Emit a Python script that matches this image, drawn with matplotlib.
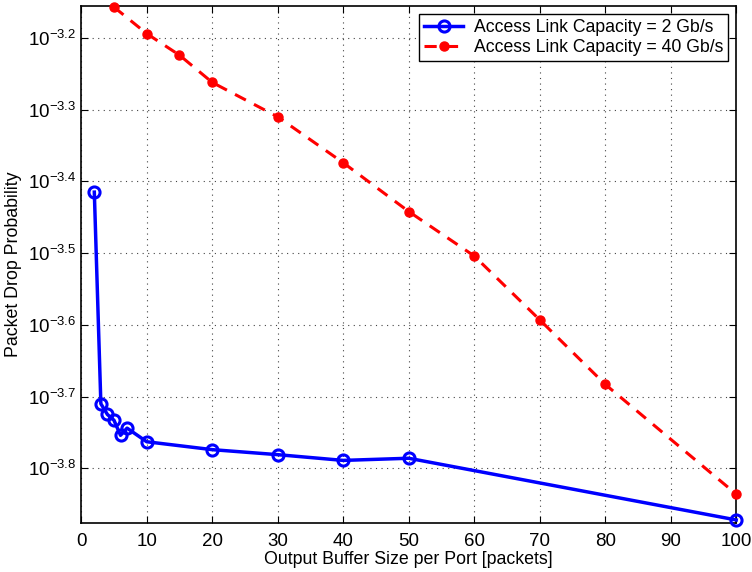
import numpy as np
import matplotlib
matplotlib.use('Agg')
from matplotlib import pyplot as plt
from matplotlib.ticker import FixedLocator, FixedFormatter, NullLocator

plt.rcParams['font.family'] = ['Liberation Sans', 'DejaVu Sans']
plt.rcParams['mathtext.fontset'] = 'custom'
plt.rcParams['mathtext.rm'] = 'Liberation Sans'
plt.rcParams['mathtext.it'] = 'Liberation Sans'

# data (log10 of drop probability)
buf_2g = [2, 3, 4, 5, 6, 7, 10, 20, 30, 40, 50, 100]
logp_2g = [-3.415, -3.710, -3.725, -3.733, -3.754, -3.744, -3.763,
           -3.774, -3.781, -3.789, -3.786, -3.872]
buf_40g = [5, 10, 15, 20, 30, 40, 50, 60, 70, 80, 100]
logp_40g = [-3.157, -3.194, -3.224, -3.262, -3.310, -3.374, -3.442,
            -3.504, -3.593, -3.683, -3.836]
ytick_exp = [-3.8, -3.7, -3.6, -3.5, -3.4, -3.3, -3.2]
xticks = [0, 10, 20, 30, 40, 50, 60, 70, 80, 90, 100]

fig = plt.figure(figsize=[7.52, 5.72], dpi=100)
ax = fig.add_axes([0.108, 0.086, 0.871, 0.9035])

ax.plot(buf_2g, 10**np.array(logp_2g), '-o', color='#0000ff', lw=2.5,
        ms=8, mfc='none', mew=2.2, label='Access Link Capacity = 2 Gb/s',
        clip_on=False, zorder=3)
ax.plot(buf_40g, 10**np.array(logp_40g), '--o', color='#ff0000', lw=2.2,
        ms=6.5, mfc='#ff0000', mec='#ff0000', dashes=(4, 3),
        label='Access Link Capacity = 40 Gb/s', clip_on=False, zorder=3)

ax.set_yscale('log')
ax.set_xlim(0, 100)
ax.set_ylim(10**-3.876, 10**-3.1555)
ax.yaxis.set_major_locator(FixedLocator([10**e for e in ytick_exp]))
ax.yaxis.set_major_formatter(FixedFormatter(['$10^{%.1f}$' % e for e in ytick_exp]))
ax.yaxis.set_minor_locator(NullLocator())
ax.set_xticks(xticks)

ax.tick_params(direction='in', length=5, labelsize=13.5, top=True, right=True)
ax.tick_params(axis='x', pad=7)
ax.grid(True, linestyle=(0, (1, 4)), color='#444444', lw=0.8)
for s in ax.spines.values():
    s.set_linewidth(1.2)

ax.set_xlabel('Output Buffer Size per Port [packets]', fontsize=12.8, labelpad=1)
ax.set_ylabel('Packet Drop Probability', fontsize=12.8)

leg = ax.legend(loc='upper right', fontsize=12.7, fancybox=False, framealpha=1,
                edgecolor='black', borderaxespad=0.45, handlelength=2.2,
                borderpad=0.3, labelspacing=0.15, handletextpad=0.6)
leg.get_frame().set_linewidth(1.0)

plt.savefig('out.png')
